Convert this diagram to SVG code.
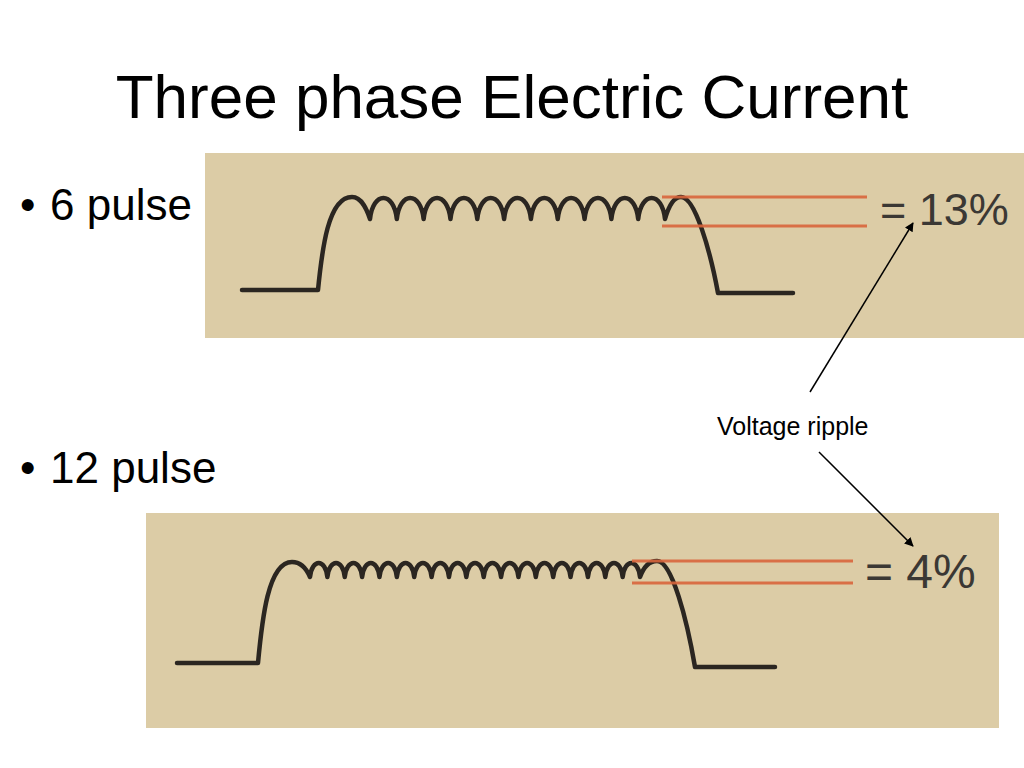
<svg xmlns="http://www.w3.org/2000/svg" width="1024" height="768" viewBox="0 0 1024 768">
  <defs>
    <style>
      .title{font-family:"Liberation Sans",Arial,sans-serif;font-size:62px;fill:#000}
      .bullet{font-family:"Liberation Sans",Arial,sans-serif;font-size:44px;fill:#000}
      .label{font-family:"Liberation Sans",Arial,sans-serif;font-size:25px;fill:#000}
      .pct{font-family:"Liberation Sans",Arial,sans-serif;fill:#3b3834}
      .panel{fill:#dccca6}
      .wave{fill:none;stroke:#2b2621;stroke-width:4.5;stroke-linejoin:round;stroke-linecap:round}
      .ref{stroke:#d9663c;stroke-width:3;opacity:0.9}
      .conn{stroke:#000;stroke-width:1.5;fill:none}
    </style>
    <marker id="ah" viewBox="0 0 10 10" refX="9" refY="5" markerWidth="9" markerHeight="9" markerUnits="userSpaceOnUse" orient="auto">
      <path d="M0,0 L10,5 L0,10 z" fill="#000"/>
    </marker>
  </defs>
  <rect width="1024" height="768" fill="#fff"/>

  <text class="title" x="512" y="118" text-anchor="middle">Three phase Electric Current</text>

  <g id="bullet-6">
    <text class="bullet" x="20" y="220">•</text>
    <text class="bullet" x="50" y="220">6 pulse</text>
  </g>
  <g id="bullet-12">
    <text class="bullet" x="20" y="483">•</text>
    <text class="bullet" x="50" y="483">12 pulse</text>
  </g>

  <g id="panel-6pulse">
    <rect class="panel" x="205" y="153" width="819" height="185"/>
    <path class="wave" d="M242,290 H318 C322,250 328,197 352,197 C362,197 367,210 370,219 c3,-28 23.8,-28 26.82,0 c3,-28 23.8,-28 26.82,0 c3,-28 23.8,-28 26.82,0 c3,-28 23.8,-28 26.82,0 c3,-28 23.8,-28 26.82,0 c3,-28 23.8,-28 26.82,0 c3,-28 23.8,-28 26.82,0 c3,-28 23.8,-28 26.82,0 c3,-28 23.8,-28 26.82,0 c3,-28 23.8,-28 26.82,0 c3,-28 23.8,-28 26.82,0 C669,205 674,197 681,197 C695,197 710,250 718,293 H793"/>
    <line class="ref" x1="662" y1="197" x2="867" y2="197"/>
    <line class="ref" x1="662" y1="226" x2="867" y2="226"/>
    <text class="pct" x="880" y="225" font-size="45">= 13%</text>
  </g>

  <g id="panel-12pulse">
    <rect class="panel" x="146" y="513" width="853" height="215"/>
    <path class="wave" d="M177,663 H258 C262,620 268,562 292,562 C301,562 307,570 310,577 c2,-18.7 15.4,-18.7 17.37,0 c2,-18.7 15.4,-18.7 17.37,0 c2,-18.7 15.4,-18.7 17.37,0 c2,-18.7 15.4,-18.7 17.37,0 c2,-18.7 15.4,-18.7 17.37,0 c2,-18.7 15.4,-18.7 17.37,0 c2,-18.7 15.4,-18.7 17.37,0 c2,-18.7 15.4,-18.7 17.37,0 c2,-18.7 15.4,-18.7 17.37,0 c2,-18.7 15.4,-18.7 17.37,0 c2,-18.7 15.4,-18.7 17.37,0 c2,-18.7 15.4,-18.7 17.37,0 c2,-18.7 15.4,-18.7 17.37,0 c2,-18.7 15.4,-18.7 17.37,0 c2,-18.7 15.4,-18.7 17.37,0 c2,-18.7 15.4,-18.7 17.37,0 c2,-18.7 15.4,-18.7 17.37,0 c2,-18.7 15.4,-18.7 17.37,0 c2,-18.7 15.4,-18.7 17.37,0 C644,566 650,561 657,561 C672,561 687,620 695,667 H775"/>
    <line class="ref" x1="632" y1="561" x2="853" y2="561"/>
    <line class="ref" x1="632" y1="583" x2="853" y2="583"/>
    <text class="pct" x="865" y="588" font-size="48">= 4%</text>
  </g>

  <g id="label-ripple">
    <text class="label" x="717" y="435">Voltage ripple</text>
  </g>

  <g id="connectors">
    <line class="conn" x1="810" y1="392" x2="913" y2="223" marker-end="url(#ah)"/>
    <line class="conn" x1="819" y1="452" x2="913" y2="546" marker-end="url(#ah)"/>
  </g>
</svg>
